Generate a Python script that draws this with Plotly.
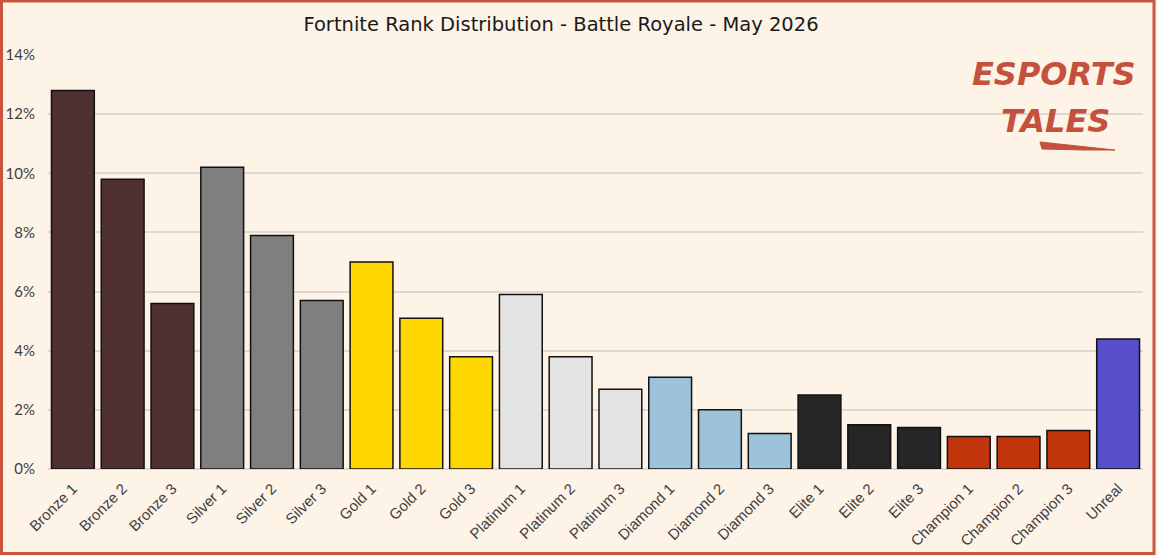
import plotly.graph_objects as go

ranks = ["Bronze 1", "Bronze 2", "Bronze 3", "Silver 1", "Silver 2", "Silver 3",
         "Gold 1", "Gold 2", "Gold 3", "Platinum 1", "Platinum 2", "Platinum 3",
         "Diamond 1", "Diamond 2", "Diamond 3", "Elite 1", "Elite 2", "Elite 3",
         "Champion 1", "Champion 2", "Champion 3", "Unreal"]
share_pct = [12.8, 9.8, 5.6, 10.2, 7.9, 5.7, 7.0, 5.1, 3.8, 5.9, 3.8, 2.7,
             3.1, 2.0, 1.2, 2.5, 1.5, 1.4, 1.1, 1.1, 1.3, 4.4]
tier_colors = {"Bronze": "#4f3030", "Silver": "#7f7f7f", "Gold": "#ffd700",
               "Platinum": "#e3e3e3", "Diamond": "#9dc3da", "Elite": "#262626",
               "Champion": "#c0350c", "Unreal": "#574fcc"}
y_ticks = [0, 2, 4, 6, 8, 10, 12, 14]
y_tick_labels = ["0%", "2%", "4%", "6%", "8%", "10%", "12%", "14%"]
title_text = "Fortnite Rank Distribution - Battle Royale - May 2026"

colors = [tier_colors[r.split(" ")[0]] for r in ranks]

W, H = 1157, 556
ml, mr, mt, mb = 48, 14, 55, 87
pw, ph = W - ml - mr, H - mt - mb

def px_x(p):
    return (p - ml) / pw

def px_y(p):
    return (H - mb - p) / ph

bg = "#fdf3e7"
frame = "#c9553f"
logo = "#c4513b"

fig = go.Figure(go.Bar(
    x=ranks, y=share_pct,
    marker=dict(color=colors, line=dict(color="#111111", width=1.5)),
    width=0.86,
))

fig.update_layout(
    width=W, height=H,
    margin=dict(l=ml, r=mr, t=mt, b=mb, autoexpand=False),
    paper_bgcolor=bg, plot_bgcolor=bg,
    showlegend=False,
    title=dict(text=title_text, x=px_x(561), xref="paper", xanchor="center",
               y=1 - 24 / H, yanchor="middle",
               font=dict(family="DejaVu Sans", size=19.5, color="#1a1a1a")),
    xaxis=dict(tickangle=-45, tickfont=dict(family="Liberation Sans", size=15, color="#404040"),
               showgrid=False, showline=False, ticks="outside", ticklen=4,
               tickcolor="rgba(0,0,0,0)", automargin=False),
    yaxis=dict(range=[0, 14], tickvals=y_ticks, ticktext=y_tick_labels,
               tickfont=dict(family="Lato", size=15, color="#404040"),
               showgrid=True, gridcolor="#ddd9d1", gridwidth=1.5,
               zeroline=True, zerolinecolor="#ddd9d1", zerolinewidth=1.5,
               showline=False, ticks="outside", ticklen=9, tickcolor="rgba(0,0,0,0)",
               automargin=False),
)

# outer frame
fig.add_shape(type="rect", xref="paper", yref="paper",
              x0=px_x(1.5), x1=px_x(1154), y0=px_y(553.5), y1=px_y(1),
              line=dict(color=frame, width=3), fillcolor="rgba(0,0,0,0)", layer="above")

# logo
fig.add_annotation(text="<b><i>ESPORTS</i></b>", xref="paper", yref="paper",
                   x=px_x(1054), y=px_y(74), xanchor="center", yanchor="middle",
                   showarrow=False,
                   font=dict(family="DejaVu Sans", size=32, color=logo))
fig.add_annotation(text="<b><i>TALES</i></b>", xref="paper", yref="paper",
                   x=px_x(1055), y=px_y(121), xanchor="center", yanchor="middle",
                   showarrow=False,
                   font=dict(family="DejaVu Sans", size=32, color=logo))
fig.add_shape(type="path", xref="paper", yref="paper",
              path=("M {:.4f},{:.4f} L {:.4f},{:.4f} L {:.4f},{:.4f} L {:.4f},{:.4f} Z").format(
                  px_x(1040), px_y(142), px_x(1115), px_y(150),
                  px_x(1085), px_y(150), px_x(1042), px_y(149)),
              line=dict(color=logo, width=1), fillcolor=logo)

fig.write_html("out.html")
